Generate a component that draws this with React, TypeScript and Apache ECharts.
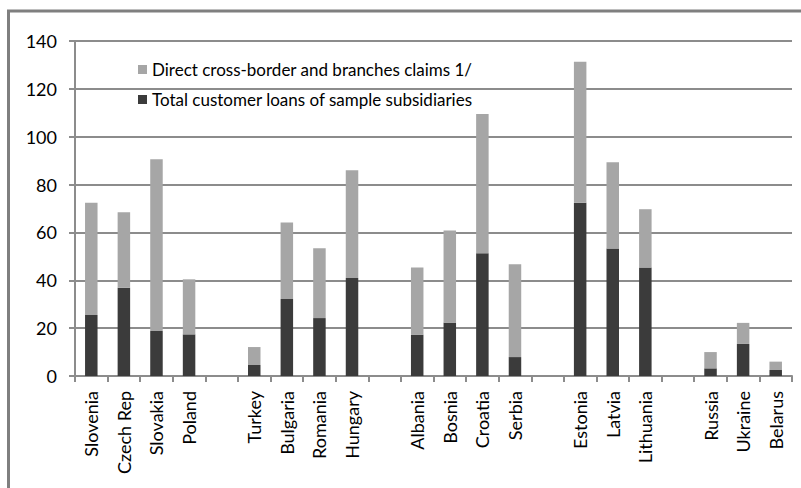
import React, { useEffect, useRef } from "react";
import * as echarts from "echarts";

const categories = [
  "Slovenia", "Czech Rep", "Slovakia", "Poland", "",
  "Turkey", "Bulgaria", "Romania", "Hungary", " ",
  "Albania", "Bosnia", "Croatia", "Serbia", "  ",
  "Estonia", "Latvia", "Lithuania", "   ",
  "Russia", "Ukraine", "Belarus",
];

const subsidiaryLoans: (number | null)[] = [
  25.5, 36.9, 18.8, 17.4, null,
  4.6, 32.2, 24.2, 41.0, null,
  17.3, 22.3, 51.3, 7.9, null,
  72.4, 53.3, 45.3, null,
  3.2, 13.4, 2.5,
];

const crossBorderClaims: (number | null)[] = [
  46.9, 31.5, 71.8, 23.0, null,
  7.5, 32.0, 29.2, 45.0, null,
  28.0, 38.5, 58.2, 38.8, null,
  58.9, 36.0, 24.4, null,
  6.8, 8.8, 3.5,
];

const yTicks = { min: 0, max: 140, interval: 20 };

const seriesNames = {
  claims: "Direct cross-border and branches claims 1/",
  loans: "Total customer loans of sample subsidiaries",
};

const FONT = "Lato";

export default function App() {
  const ref = useRef<HTMLDivElement>(null);
  useEffect(() => {
    if (!ref.current) return;
    const chart = echarts.init(ref.current, null, { renderer: "svg" });
    chart.setOption({
      animation: false,
      backgroundColor: "#ffffff",
      textStyle: { fontFamily: FONT },
      graphic: [
        {
          type: "rect",
          shape: { x: 8.5, y: 11, width: 800, height: 490 },
          style: { fill: "none", stroke: "#7f7f7f", lineWidth: 3 },
          silent: true,
        },
      ],
      grid: { left: 75, right: 9, top: 41, bottom: 112, containLabel: false },
      legend: {
        orient: "vertical",
        left: 133,
        top: 56,
        itemWidth: 9,
        itemHeight: 9,
        itemGap: 13,
        icon: "rect",
        data: [seriesNames.claims, seriesNames.loans],
        textStyle: { fontFamily: FONT, fontSize: 17, color: "#000" },
      },
      xAxis: {
        type: "category",
        data: categories,
        boundaryGap: true,
        axisLine: { lineStyle: { color: "#8c8c8c", width: 2 } },
        axisTick: { show: true, length: 6, alignWithLabel: false, interval: 0, lineStyle: { color: "#8c8c8c", width: 2 } },
        axisLabel: {
          interval: 0,
          rotate: 90,
          margin: 15,
          fontFamily: FONT,
          fontSize: 18,
          color: "#000",
        },
      },
      yAxis: {
        type: "value",
        min: yTicks.min,
        max: yTicks.max,
        interval: yTicks.interval,
        axisLine: { show: true, lineStyle: { color: "#8c8c8c", width: 2 } },
        axisTick: { show: true, length: 6, lineStyle: { color: "#8c8c8c", width: 2 } },
        splitLine: { show: true, lineStyle: { color: "#8c8c8c", width: 2 } },
        axisLabel: { margin: 18, fontFamily: FONT, fontSize: 18, color: "#000" },
      },
      series: [
        {
          name: seriesNames.loans,
          type: "bar",
          stack: "total",
          barWidth: 12.5,
          data: subsidiaryLoans,
          itemStyle: { color: "#3b3b3b" },
        },
        {
          name: seriesNames.claims,
          type: "bar",
          stack: "total",
          barWidth: 12.5,
          data: crossBorderClaims,
          itemStyle: { color: "#a6a6a6" },
        },
      ],
    });
    return () => chart.dispose();
  }, []);
  return (
    <div
      ref={ref}
      style={{ position: "fixed", left: 0, top: 0, width: 801, height: 488 }}
    />
  );
}
